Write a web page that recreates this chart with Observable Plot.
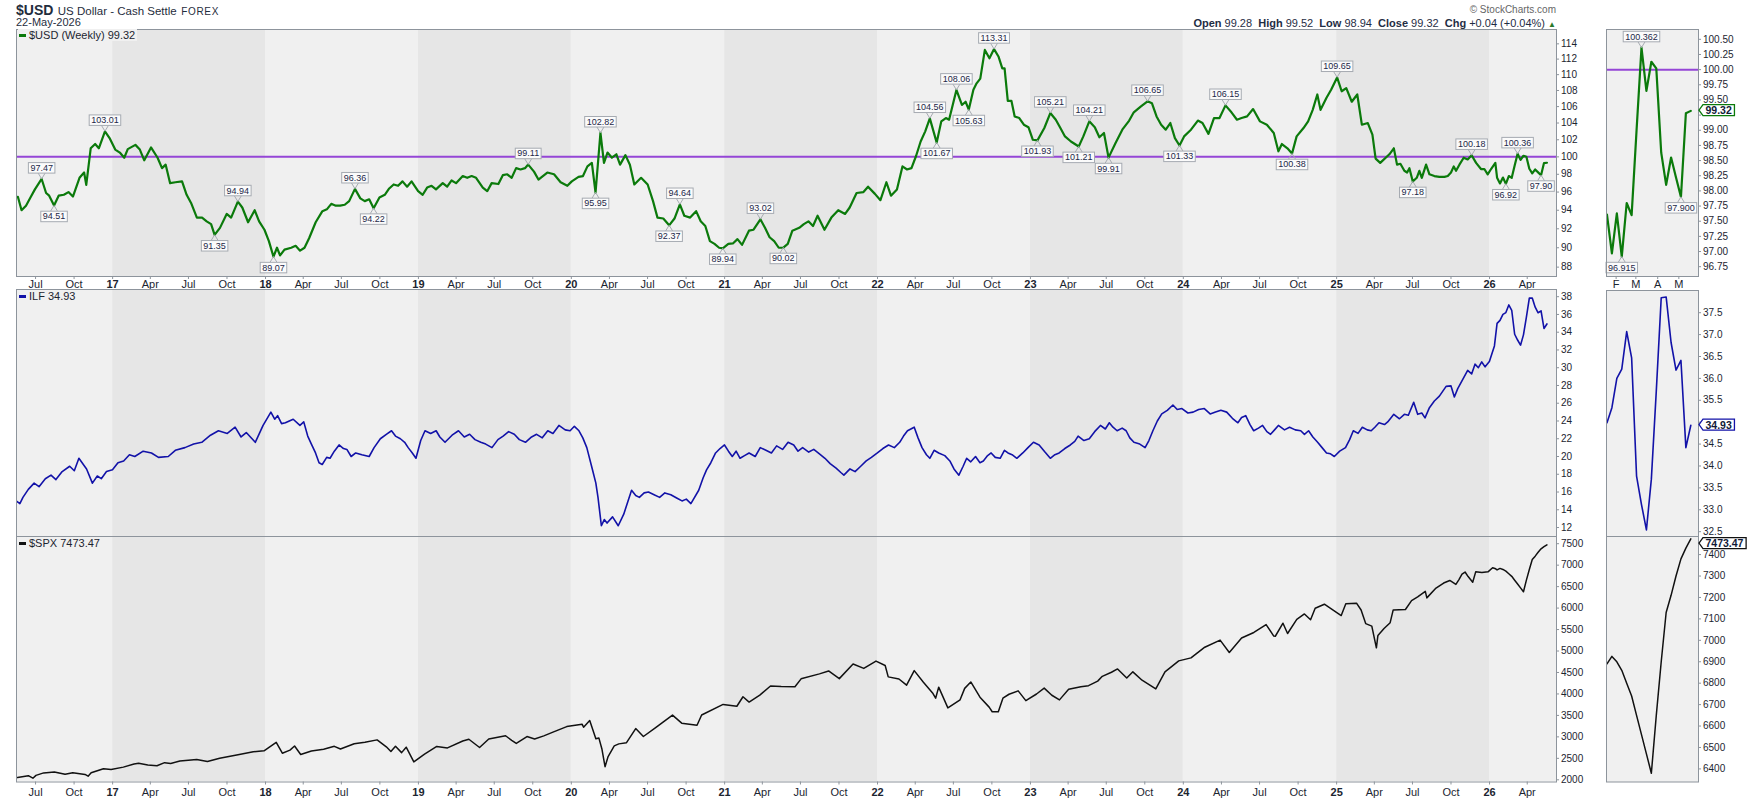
<!DOCTYPE html>
<html><head><meta charset="utf-8">
<script src="https://cdn.jsdelivr.net/npm/d3@7"></script>
<script src="https://cdn.jsdelivr.net/npm/@observablehq/plot@0.6"></script>
<style>
html,body{margin:0;padding:0;background:#fff;}
#chart{position:relative;width:1750px;height:800px;overflow:hidden;font-family:"Liberation Sans",Arial,sans-serif;color:#1c2a3c;}
#chart svg{overflow:visible;}
.h{position:absolute;white-space:nowrap;}
.leg{position:absolute;font-size:11px;line-height:12px;color:#1c2530;background:#f0f0f0;padding:0 2px 0 1px;white-space:nowrap;}
.leg i{display:inline-block;width:7px;height:3px;margin-right:3px;vertical-align:middle;position:relative;top:-1px;}
</style></head>
<body><div id="chart"></div>
<script>
// ---------- DATA ----------
// decimal-year time, value
const usdHist = [
[2016.382,95.48],[2016.406,94.0],[2016.435,94.5],[2016.464,95.4],[2016.493,96.3],[2016.537,97.47],[2016.566,95.9],[2016.586,95.6],[2016.618,94.51],[2016.648,95.6],[2016.682,95.7],[2016.712,96.0],[2016.741,95.5],[2016.784,97.6],[2016.814,98.2],[2016.828,96.8],[2016.857,101.0],[2016.886,101.5],[2016.910,101.0],[2016.950,103.01],[2016.980,102.2],
[2017.017,100.85],[2017.047,100.5],[2017.076,99.9],[2017.099,100.9],[2017.149,101.4],[2017.178,100.85],[2017.207,99.6],[2017.251,101.1],[2017.294,99.9],[2017.323,98.7],[2017.347,99.1],[2017.376,97.0],[2017.411,97.1],[2017.454,97.2],[2017.484,95.7],[2017.513,94.8],[2017.551,93.2],[2017.585,93.2],[2017.615,92.8],[2017.644,92.5],[2017.667,91.35],[2017.702,92.1],[2017.746,93.6],[2017.775,93.2],[2017.819,94.94],[2017.848,94.3],[2017.886,92.7],[2017.929,94.0],[2017.958,92.8],[2017.993,91.9],
[2018.022,90.7],[2018.052,89.07],[2018.075,90.0],[2018.095,89.2],[2018.124,89.8],[2018.168,90.0],[2018.197,90.2],[2018.226,89.7],[2018.255,90.0],[2018.285,91.0],[2018.328,92.7],[2018.372,93.9],[2018.401,94.1],[2018.430,94.7],[2018.459,94.5],[2018.488,94.5],[2018.518,94.6],[2018.547,95.0],[2018.585,96.36],[2018.620,95.3],[2018.649,95.0],[2018.678,95.2],[2018.707,94.22],[2018.745,95.4],[2018.780,95.7],[2018.809,96.4],[2018.838,96.85],[2018.867,96.7],[2018.896,97.2],[2018.926,96.6],[2018.955,97.2],[2018.998,96.1],
[2019.028,95.7],[2019.057,96.5],[2019.086,96.7],[2019.115,96.3],[2019.159,97.0],[2019.188,96.6],[2019.217,97.3],[2019.246,97.0],[2019.290,97.8],[2019.319,97.6],[2019.348,97.8],[2019.377,97.6],[2019.421,96.5],[2019.450,96.1],[2019.479,97.0],[2019.523,96.9],[2019.552,97.9],[2019.581,98.0],[2019.610,97.6],[2019.639,98.7],[2019.668,98.55],[2019.697,98.7],[2019.718,99.11],[2019.756,98.3],[2019.785,97.4],[2019.814,97.8],[2019.843,98.2],[2019.887,98.0],[2019.930,97.1],[2019.974,96.7],
[2020.003,97.2],[2020.047,97.7],[2020.076,97.8],[2020.105,98.9],[2020.134,99.3],[2020.158,95.95],[2020.190,102.82],[2020.213,99.3],[2020.236,100.5],[2020.265,99.9],[2020.294,100.3],[2020.318,99.1],[2020.353,100.2],[2020.382,99.1],[2020.411,96.85],[2020.455,97.6],[2020.498,96.85],[2020.533,95.0],[2020.562,93.2],[2020.600,93.1],[2020.638,92.37],[2020.673,93.1],[2020.708,94.64],[2020.737,93.4],[2020.775,93.2],[2020.814,93.9],[2020.844,92.8],[2020.874,92.3],[2020.904,90.7],[2020.934,90.4],[2020.964,90.0],[2020.988,89.94],
[2021.024,90.4],[2021.054,90.45],[2021.084,90.9],[2021.114,90.3],[2021.159,91.8],[2021.189,91.9],[2021.234,93.02],[2021.264,92.1],[2021.294,91.1],[2021.324,90.7],[2021.354,90.0],[2021.384,90.02],[2021.413,90.4],[2021.443,91.8],[2021.488,92.1],[2021.518,92.5],[2021.548,92.8],[2021.578,92.3],[2021.608,93.4],[2021.653,91.9],[2021.698,93.2],[2021.743,94.0],[2021.788,93.6],[2021.818,94.3],[2021.863,95.9],[2021.908,96.0],[2021.938,96.6],[2021.983,95.8],
[2022.019,95.1],[2022.058,97.1],[2022.088,95.6],[2022.127,96.3],[2022.163,98.9],[2022.193,98.55],[2022.222,98.7],[2022.252,100.1],[2022.282,101.8],[2022.312,103.0],[2022.342,104.56],[2022.387,101.67],[2022.417,104.2],[2022.447,104.6],[2022.468,104.4],[2022.516,108.06],[2022.552,106.2],[2022.576,106.6],[2022.597,105.63],[2022.627,108.1],[2022.648,108.9],[2022.672,109.5],[2022.702,113.2],[2022.732,112.1],[2022.762,113.31],[2022.792,112.3],[2022.816,110.8],[2022.831,110.8],[2022.852,106.7],[2022.876,106.7],[2022.897,104.8],[2022.927,104.6],[2022.957,103.8],[2022.987,103.5],
[2023.016,102.0],[2023.046,101.93],[2023.091,103.4],[2023.130,105.21],[2023.166,104.4],[2023.196,103.4],[2023.226,102.4],[2023.265,101.8],[2023.316,101.21],[2023.346,102.4],[2023.385,104.21],[2023.421,103.5],[2023.451,102.3],[2023.481,102.8],[2023.511,99.91],[2023.556,101.6],[2023.601,103.2],[2023.646,104.3],[2023.676,105.3],[2023.721,106.0],[2023.766,106.65],[2023.795,106.4],[2023.825,104.8],[2023.855,103.8],[2023.885,103.2],[2023.915,104.0],[2023.945,102.2],[2023.975,101.33],
[2024.005,102.4],[2024.050,103.2],[2024.095,104.3],[2024.125,104.0],[2024.164,102.7],[2024.200,104.6],[2024.236,104.6],[2024.275,106.15],[2024.314,105.3],[2024.350,104.4],[2024.380,104.6],[2024.416,104.8],[2024.455,105.7],[2024.500,104.2],[2024.545,103.8],[2024.590,102.8],[2024.620,100.65],[2024.643,101.5],[2024.679,101.0],[2024.709,100.38],[2024.739,102.4],[2024.784,103.4],[2024.814,104.2],[2024.844,105.6],[2024.874,107.5],[2024.895,105.6],[2024.934,107.1],[2024.964,108.1],
[2025.003,109.65],[2025.033,107.9],[2025.063,108.3],[2025.099,106.6],[2025.135,107.5],[2025.165,103.8],[2025.204,104.0],[2025.234,102.6],[2025.255,99.8],[2025.285,99.3],[2025.345,100.3],[2025.374,101.0],[2025.395,99.1],[2025.417,99.2],[2025.443,98.4],[2025.461,98.2],[2025.476,98.7],[2025.498,97.18],[2025.524,97.6],[2025.541,98.4],[2025.557,97.6],[2025.585,99.1],[2025.607,98.0],[2025.639,97.8],[2025.672,97.7],[2025.705,97.7],[2025.727,97.8],[2025.748,98.2],[2025.766,98.9],[2025.781,98.4],[2025.803,99.1],[2025.831,99.9],[2025.857,99.7],[2025.883,100.18],[2025.912,99.3],[2025.944,98.6],[2025.966,98.6],[2025.988,98.0],[2026.010,98.6],[2026.038,99.3]
];
const ilfHist = [
[2016.371,15.0],[2016.395,14.7],[2016.415,15.4],[2016.450,16.3],[2016.488,17.0],[2016.520,16.6],[2016.561,17.5],[2016.598,17.9],[2016.630,17.4],[2016.671,18.3],[2016.720,18.9],[2016.750,18.4],[2016.780,19.8],[2016.830,18.6],[2016.868,17.0],[2016.900,17.8],[2016.926,17.5],[2016.960,18.3],[2016.999,18.5],
[2017.035,19.3],[2017.072,19.5],[2017.110,20.2],[2017.145,20.0],[2017.200,20.6],[2017.254,20.4],[2017.300,19.9],[2017.364,20.0],[2017.410,20.7],[2017.473,21.0],[2017.530,21.4],[2017.583,21.6],[2017.640,22.4],[2017.692,22.9],[2017.750,22.6],[2017.801,23.3],[2017.840,22.2],[2017.874,22.7],[2017.933,21.6],[2017.960,22.6],[2017.984,23.5],
[2018.035,25.0],[2018.060,24.2],[2018.079,24.6],[2018.105,23.7],[2018.130,23.8],[2018.181,24.2],[2018.225,23.5],[2018.250,23.9],[2018.276,22.3],[2018.300,21.4],[2018.327,20.4],[2018.350,19.3],[2018.371,19.1],[2018.400,19.9],[2018.422,19.8],[2018.450,20.6],[2018.481,21.3],[2018.510,20.9],[2018.532,20.8],[2018.560,20.0],[2018.590,20.4],[2018.630,20.2],[2018.678,20.0],[2018.710,21.0],[2018.751,22.0],[2018.790,22.5],[2018.824,22.9],[2018.850,22.3],[2018.882,22.0],[2018.910,21.6],[2018.933,21.0],[2018.960,20.4],[2018.984,19.8],
[2019.015,21.8],[2019.043,22.9],[2019.080,22.6],[2019.116,22.9],[2019.140,22.2],[2019.174,21.6],[2019.220,22.4],[2019.262,22.9],[2019.300,22.2],[2019.335,22.5],[2019.370,21.9],[2019.408,21.6],[2019.440,21.4],[2019.481,21.0],[2019.520,21.9],[2019.554,22.3],[2019.590,22.8],[2019.627,22.5],[2019.660,21.9],[2019.700,21.6],[2019.740,22.2],[2019.773,22.5],[2019.810,22.1],[2019.846,22.9],[2019.880,22.6],[2019.919,23.5],[2019.960,23.0],[2019.992,22.9],
[2020.020,23.4],[2020.050,22.9],[2020.075,22.1],[2020.101,21.0],[2020.138,18.5],[2020.160,17.0],[2020.174,15.4],[2020.196,12.2],[2020.215,12.9],[2020.233,12.5],[2020.269,13.2],[2020.306,12.2],[2020.342,13.5],[2020.370,15.0],[2020.393,16.2],[2020.420,15.6],[2020.444,15.4],[2020.475,15.9],[2020.503,16.0],[2020.540,15.7],[2020.576,15.4],[2020.610,15.9],[2020.649,15.7],[2020.690,15.3],[2020.722,15.0],[2020.750,15.2],[2020.780,14.7],[2020.831,16.2],[2020.860,17.6],[2020.882,18.5],[2020.910,19.3],[2020.941,20.4],[2020.970,20.9],[2020.999,21.3],
[2021.025,20.6],[2021.050,20.0],[2021.075,20.6],[2021.101,19.8],[2021.130,20.1],[2021.160,20.4],[2021.200,20.0],[2021.233,21.0],[2021.270,20.7],[2021.306,20.4],[2021.340,21.2],[2021.379,20.8],[2021.415,21.6],[2021.452,21.3],[2021.480,20.6],[2021.510,21.0],[2021.550,20.5],[2021.583,20.8],[2021.620,20.3],[2021.656,19.8],[2021.690,19.2],[2021.729,18.7],[2021.760,18.2],[2021.780,17.9],[2021.820,18.6],[2021.853,18.3],[2021.890,18.9],[2021.926,19.5],[2021.960,19.9],[2021.999,20.4],
[2022.035,20.9],[2022.072,21.3],[2022.110,21.0],[2022.145,21.6],[2022.170,22.3],[2022.196,22.9],[2022.240,23.3],[2022.265,22.1],[2022.291,21.0],[2022.320,20.2],[2022.342,19.8],[2022.370,20.7],[2022.400,20.4],[2022.440,20.1],[2022.473,19.5],[2022.500,18.6],[2022.532,17.9],[2022.560,18.9],[2022.583,19.8],[2022.610,19.4],[2022.641,20.0],[2022.670,19.3],[2022.692,19.5],[2022.720,20.1],[2022.743,20.4],[2022.770,19.9],[2022.802,19.8],[2022.830,20.7],[2022.853,20.4],[2022.880,20.2],[2022.911,19.8],[2022.950,20.4],[2022.984,21.0],
[2023.020,21.6],[2023.057,21.3],[2023.095,20.5],[2023.130,19.8],[2023.160,20.2],[2023.188,20.4],[2023.225,20.9],[2023.261,21.3],[2023.290,21.7],[2023.312,22.3],[2023.350,21.8],[2023.385,22.0],[2023.420,22.8],[2023.458,23.5],[2023.490,23.1],[2023.516,23.8],[2023.540,23.3],[2023.567,22.9],[2023.600,23.2],[2023.626,22.9],[2023.650,22.1],[2023.677,21.6],[2023.715,21.4],[2023.750,21.0],[2023.775,21.8],[2023.801,22.9],[2023.830,24.0],[2023.859,24.8],[2023.895,25.2],[2023.932,25.8],[2023.960,25.3],[2023.991,25.4],
[2024.030,24.9],[2024.064,25.0],[2024.100,25.3],[2024.137,25.4],[2024.175,24.8],[2024.210,25.0],[2024.245,25.2],[2024.283,25.0],[2024.320,24.3],[2024.356,23.8],[2024.380,24.4],[2024.407,24.6],[2024.435,23.6],[2024.459,22.9],[2024.490,23.2],[2024.517,23.5],[2024.545,22.8],[2024.569,22.5],[2024.595,23.0],[2024.620,23.5],[2024.660,23.0],[2024.693,23.3],[2024.730,23.0],[2024.766,22.9],[2024.790,22.5],[2024.817,22.9],[2024.845,22.2],[2024.876,21.6],[2024.905,21.0],[2024.934,20.4],[2024.960,20.3],[2024.985,20.0],
[2025.020,20.6],[2025.058,21.0],[2025.085,21.9],[2025.109,22.9],[2025.140,22.6],[2025.168,23.3],[2025.200,23.0],[2025.226,22.9],[2025.250,23.3],[2025.277,23.8],[2025.313,23.6],[2025.334,23.9],[2025.374,24.75],[2025.411,24.25],[2025.443,24.75],[2025.469,24.65],[2025.504,26.1],[2025.530,24.75],[2025.557,24.9],[2025.578,24.35],[2025.607,25.5],[2025.639,26.25],[2025.672,26.8],[2025.716,27.9],[2025.748,27.95],[2025.770,26.7],[2025.792,27.65],[2025.825,28.7],[2025.857,29.7],[2025.883,29.3],[2025.905,30.4],[2025.927,30.0],[2025.949,30.65],[2025.971,30.1],[2025.999,30.7],[2026.032,32.45]
];
const spxHist = [
[2016.38,2052],[2016.45,2096],[2016.48,2037],[2016.50,2103],[2016.55,2161],[2016.62,2184],[2016.69,2128],[2016.74,2165],[2016.82,2126],[2016.84,2085],[2016.86,2164],[2016.94,2259],[2016.99,2239],
[2017.07,2295],[2017.14,2367],[2017.17,2383],[2017.23,2344],[2017.29,2329],[2017.34,2399],[2017.38,2382],[2017.44,2439],[2017.55,2473],[2017.62,2426],[2017.70,2500],[2017.82,2581],[2017.92,2652],[2017.99,2674],
[2018.07,2873],[2018.11,2620],[2018.16,2691],[2018.19,2786],[2018.23,2588],[2018.30,2670],[2018.38,2713],[2018.45,2780],[2018.49,2718],[2018.58,2840],[2018.65,2875],[2018.73,2930],[2018.79,2768],[2018.82,2658],[2018.85,2781],[2018.89,2633],[2018.92,2760],[2018.97,2417],
[2019.04,2596],[2019.12,2776],[2019.19,2743],[2019.29,2905],[2019.33,2945],[2019.40,2752],[2019.46,2950],[2019.57,3026],[2019.61,2919],[2019.64,2847],[2019.71,3007],[2019.76,2952],[2019.82,3023],[2019.88,3110],[2019.97,3240],
[2020.07,3295],[2020.08,3225],[2020.12,3380],[2020.16,2954],[2020.18,2972],[2020.20,2711],[2020.22,2305],[2020.24,2541],[2020.28,2790],[2020.31,2837],[2020.36,2864],[2020.42,3194],[2020.47,3009],[2020.55,3216],[2020.66,3508],[2020.72,3319],[2020.82,3270],[2020.85,3509],[2020.99,3756],
[2021.08,3714],[2021.12,3934],[2021.16,3811],[2021.23,3974],[2021.30,4185],[2021.37,4173],[2021.46,4166],[2021.50,4352],[2021.62,4468],[2021.68,4535],[2021.75,4357],[2021.84,4697],[2021.91,4595],[2021.99,4766],
[2022.05,4663],[2022.07,4398],[2022.14,4349],[2022.19,4204],[2022.24,4543],[2022.30,4272],[2022.36,4023],[2022.38,3901],[2022.40,4158],[2022.46,3675],[2022.54,3863],[2022.57,4130],[2022.61,4280],[2022.67,3924],[2022.73,3693],[2022.75,3586],[2022.79,3583],[2022.82,3901],[2022.86,3993],[2022.92,4072],[2022.97,3845],
[2023.04,3999],[2023.09,4136],[2023.14,3970],[2023.19,3862],[2023.25,4109],[2023.33,4169],[2023.38,4192],[2023.44,4299],[2023.47,4410],[2023.53,4505],[2023.57,4582],[2023.63,4370],[2023.67,4515],[2023.73,4320],[2023.82,4117],[2023.88,4514],[2023.97,4770],
[2024.05,4840],[2024.14,5089],[2024.24,5254],[2024.30,4967],[2024.38,5304],[2024.46,5432],[2024.54,5615],[2024.59,5347],[2024.60,5344],[2024.65,5648],[2024.68,5408],[2024.74,5738],[2024.79,5864],[2024.83,5729],[2024.86,5995],[2024.92,6090],[2024.97,5970],
[2025.03,5827],[2025.06,6101],[2025.13,6114],[2025.16,5955],[2025.19,5639],[2025.23,5581],[2025.26,5074],[2025.27,5363],[2025.31,5525],[2025.35,5660],[2025.37,5958],[2025.45,5967],[2025.49,6173],[2025.53,6259],[2025.58,6389],[2025.59,6238],[2025.65,6466],[2025.70,6584],[2025.74,6643],[2025.78,6552],[2025.80,6664],[2025.82,6791],[2025.84,6840],[2025.86,6734],[2025.89,6603],[2025.91,6849],[2025.95,6827],[2025.99,6845],
[2026.02,6940],[2026.04,6915]
];
// last 18 weekly bars (shown in the right-hand zoom panels and at the end of the main panels)
const recentDates = ["2026-01-19","2026-01-26","2026-02-02","2026-02-09","2026-02-16","2026-02-23","2026-03-02","2026-03-09","2026-03-16","2026-03-23","2026-03-30","2026-04-06","2026-04-13","2026-04-20","2026-04-27","2026-05-04","2026-05-11","2026-05-18"];
const usdRecent = [97.61,96.97,97.63,96.915,97.80,97.60,99.0,100.362,99.65,100.13,100.02,98.63,98.10,98.55,98.22,97.90,99.28,99.32];
const ilfRecent = [34.99,35.33,36.0,36.21,37.07,36.47,33.77,33.12,32.54,33.7,35.71,37.84,37.86,36.82,36.19,36.41,34.42,34.93];
const spxRecent = [6890,6925,6900,6860,6800,6740,6650,6560,6470,6380,6650,6900,7130,7210,7300,7380,7430,7473.47];
// annotated swing points
const usdPeaks = [[2016.537,97.47],[2016.950,103.01],[2017.819,94.94],[2018.585,96.36],[2019.718,99.11],[2020.190,102.82],[2020.708,94.64],[2021.234,93.02],[2022.342,104.56],[2022.516,108.06],[2022.762,113.31],[2023.130,105.21],[2023.385,104.21],[2023.766,106.65],[2024.275,106.15],[2025.003,109.65],[2025.883,100.18],["2026-03-09",100.36]];
const usdTroughs = [[2016.618,94.51],[2017.667,91.35],[2018.052,89.07],[2018.707,94.22],[2020.158,95.95],[2020.638,92.37],[2020.988,89.94],[2021.384,90.02],[2022.387,101.67],[2022.597,105.63],[2023.046,101.93],[2023.316,101.21],[2023.511,99.91],[2023.975,101.33],[2024.709,100.38],[2025.498,97.18],["2026-02-09",96.92],["2026-05-04",97.90]];
const miniPeaks = [["2026-03-09",100.362]];
const miniTroughs = [["2026-02-09",96.915],["2026-05-04",97.900]];
// axis ticks
const usdTicks = [88,90,92,94,96,98,100,102,104,106,108,110,112,114];
const ilfTicks = [12,14,16,18,20,22,24,26,28,30,32,34,36,38];
const spxTicks = [2000,2500,3000,3500,4000,4500,5000,5500,6000,6500,7000,7500];
const miniUsdTicks = [96.75,97.00,97.25,97.50,97.75,98.00,98.25,98.50,98.75,99.00,99.25,99.50,99.75,100.00,100.25,100.50];
const miniIlfTicks = [32.5,33.0,33.5,34.0,34.5,35.0,35.5,36.0,36.5,37.0,37.5];
const miniSpxTicks = [6400,6500,6600,6700,6800,6900,7000,7100,7200,7300,7400];
const resistance = 100;
const lastValues = {usd: 99.32, ilf: 34.93, spx: 7473.47};

// ---------- helpers ----------
function toDate(t) {
  if (typeof t === "string") return new Date(t + "T00:00:00Z");
  const y = Math.floor(t), a = Date.UTC(y, 0, 1), b = Date.UTC(y + 1, 0, 1);
  return new Date(a + (t - y) * (b - a));
}
const rows = (hist, dates, recent) =>
  hist.map(([t, v]) => ({date: toDate(t), value: v}))
    .concat(dates.map((d, i) => ({date: toDate(d), value: recent[i]})));
const pts = arr => arr.map(([t, v]) => ({date: toDate(t), value: v}));

const usdData = rows(usdHist, recentDates, usdRecent);
const ilfData = rows(ilfHist, recentDates, ilfRecent);
const spxData = rows(spxHist, recentDates, spxRecent);
const usdMini = pts(recentDates.map((d, i) => [d, usdRecent[i]]));
const ilfMini = pts(recentDates.map((d, i) => [d, ilfRecent[i]]));
const spxMini = pts(recentDates.map((d, i) => [d, spxRecent[i]]));

const GREEN = "#0b7a0b", PURPLE = "#9546d6", BLUE = "#1212a8", BLACK = "#111", BORDER = "#8d949c", TXT = "#1c2530", LBL = "#1b2848";
const FONT = "'Liberation Sans', Arial, sans-serif";
const style = {background: "transparent", color: TXT, fontFamily: FONT, fontSize: "10px", overflow: "visible"};

const xDomain = [toDate(2016.373), toDate(2026.438)];
const bands = d3.range(2016, 2027).map(y => ({x1: new Date(Date.UTC(y, 0, 1)), x2: new Date(Date.UTC(y + 1, 0, 1)), dark: y % 2 === 1}));
const lightBands = bands.filter(d => !d.dark), darkBands = bands.filter(d => d.dark);
const monthTicks = d3.utcMonth.every(3).range(new Date(Date.UTC(2016, 3, 1)), xDomain[1]).filter(d => d >= xDomain[0] && d.getUTCMonth() !== 0);
const yearTicks = d3.utcYear.range(new Date(Date.UTC(2017, 0, 1)), xDomain[1]);
const fmtMonth = d3.utcFormat("%b"), fmtYear = d3.utcFormat("%y");
const miniDomain = [new Date("2026-01-18T08:00:00Z"), new Date("2026-05-28T22:00:00Z")];
const miniMonthTicks = d3.utcMonth.range(miniDomain[0], miniDomain[1]);

const MW = 1540, MRW = 92;

function bgBands(yd) {
  return [
    Plot.rect(lightBands, {x1: "x1", x2: "x2", y1: yd[0], y2: yd[1], fill: "#f0f0f0", clip: true}),
    Plot.rect(darkBands, {x1: "x1", x2: "x2", y1: yd[0], y2: yd[1], fill: "#e6e6e6", clip: true})
  ];
}
function xAxes(pad) {
  return [
    Plot.axisX({anchor: "bottom", label: null, ticks: monthTicks, tickFormat: fmtMonth, tickSize: 3, tickPadding: pad, fontSize: 11, stroke: BORDER, fill: TXT}),
    Plot.axisX({anchor: "bottom", label: null, ticks: yearTicks, tickFormat: fmtYear, tickSize: 3, tickPadding: pad, fontSize: 11, fontWeight: "bold", stroke: BORDER, fill: TXT})
  ];
}
// right-hand price axis drawn as tick rules plus text (works for log and linear scales)
function yAxis(ticks, fmt, xEnd, tickSpan) {
  return [
    Plot.ruleY(ticks, {y: d => d, x1: xEnd, x2: new Date(+xEnd + tickSpan), stroke: BORDER}),
    Plot.text(ticks, {y: d => d, frameAnchor: "right", dx: 4.5, textAnchor: "start", lineAnchor: "middle", text: fmt, fontSize: 10, fill: TXT})
  ];
}
function labelMarks(peaks, troughs, digits, name) {
  return [
    Plot.text(pts(peaks), {x: "date", y: "value", text: d => d.value.toFixed(digits), dy: -11, lineAnchor: "middle", fontSize: 9, fill: LBL, ariaDescription: name + "-up"}),
    Plot.text(pts(troughs), {x: "date", y: "value", text: d => d.value.toFixed(digits), dy: 11, lineAnchor: "middle", fontSize: 9, fill: LBL, ariaDescription: name + "-down"})
  ];
}
// last-value tag on the zoom panel's price axis; kept inside the panel's top edge
function tagMark(v, name, yMax) {
  return Plot.text([v], {y: d => Math.min(d, yMax), frameAnchor: "right", dx: 7, textAnchor: "start", lineAnchor: "middle", text: d => d.toFixed(2), fontWeight: "bold", fontSize: 10.5, fill: "#101a38", ariaDescription: name});
}

const chart = document.getElementById("chart");
function mount(svg, left, top) {
  svg.style.position = "absolute"; svg.style.left = left + "px"; svg.style.top = top + "px";
  chart.appendChild(svg); return svg;
}
const DAY = 864e5;
const mainTick = 7.3 * DAY;   // ~3px on the main time axis
const miniTick = 4.3 * DAY;   // ~3px on the zoom time axis

// ---------- main panels ----------
const usdDom = [87.05, 115.91];
const topMain = mount(Plot.plot({
  width: 1 + MW + 45, height: 1 + 247 + 13, marginLeft: 1, marginTop: 1, marginRight: 45, marginBottom: 13, style,
  x: {type: "utc", domain: xDomain, axis: null},
  y: {type: "log", domain: usdDom, axis: null},
  marks: [
    ...bgBands(usdDom),
    Plot.ruleY([resistance], {stroke: PURPLE, strokeWidth: 2, clip: true}),
    Plot.line(usdData, {x: "date", y: "value", stroke: GREEN, strokeWidth: 2.2, clip: true}),
    ...labelMarks(usdPeaks, usdTroughs, 2, "usd"),
    Plot.frame({stroke: BORDER}),
    ...yAxis(usdTicks, d => String(d), xDomain[1], mainTick),
    ...xAxes(1)
  ]
}), 15, 27.5);

const ilfDom = [10.99, 38.81];
const midMain = mount(Plot.plot({
  width: 1 + MW + 45, height: 1 + 247, marginLeft: 1, marginTop: 1, marginRight: 45, marginBottom: 0, style,
  x: {type: "utc", domain: xDomain, axis: null},
  y: {domain: ilfDom, axis: null},
  marks: [
    ...bgBands(ilfDom),
    Plot.line(ilfData, {x: "date", y: "value", stroke: BLUE, strokeWidth: 1.6, clip: true}),
    Plot.frame({stroke: BORDER}),
    ...yAxis(ilfTicks, d => String(d), xDomain[1], mainTick)
  ]
}), 15, 287.5);

const spxDom = [1948.8, 7667.7];
const botMain = mount(Plot.plot({
  width: 1 + MW + 45, height: 1 + 245.5 + 19, marginLeft: 1, marginTop: 1, marginRight: 45, marginBottom: 19, style,
  x: {type: "utc", domain: xDomain, axis: null},
  y: {domain: spxDom, axis: null},
  marks: [
    ...bgBands(spxDom),
    Plot.line(spxData, {x: "date", y: "value", stroke: BLACK, strokeWidth: 1.5, clip: true}),
    Plot.frame({stroke: BORDER}),
    ...yAxis(spxTicks, d => String(d), xDomain[1], mainTick),
    ...xAxes(3)
  ]
}), 15, 534.5);

// ---------- zoom panels (last weeks) ----------
const mUsdDom = [96.588, 100.662];
const topMini = mount(Plot.plot({
  width: 1 + MRW + 52, height: 1 + 247 + 13, marginLeft: 1, marginTop: 1, marginRight: 52, marginBottom: 13, style,
  x: {type: "utc", domain: miniDomain, axis: null},
  y: {domain: mUsdDom, axis: null},
  marks: [
    Plot.frame({fill: "#f0f0f0"}),
    Plot.ruleY([resistance], {stroke: PURPLE, strokeWidth: 2, clip: true}),
    Plot.line(usdMini, {x: "date", y: "value", stroke: GREEN, strokeWidth: 2.2, clip: true}),
    ...labelMarks(miniPeaks, miniTroughs, 3, "musd"),
    Plot.frame({stroke: BORDER}),
    ...yAxis(miniUsdTicks, d => d === 99.25 ? "" : d.toFixed(2), miniDomain[1], miniTick),
    Plot.axisX({anchor: "bottom", label: null, ticks: miniMonthTicks, tickFormat: d => "JFMAMJJASOND"[d.getUTCMonth()], tickSize: 3, tickPadding: 1, fontSize: 11, stroke: BORDER, fill: TXT}),
    tagMark(lastValues.usd, "tag-usd", 100.55)
  ]
}), 1604.5, 27.5);

const mIlfDom = [32.39, 38.007];
const midMini = mount(Plot.plot({
  width: 1 + MRW + 52, height: 1 + 246, marginLeft: 1, marginTop: 1, marginRight: 52, marginBottom: 0, style,
  x: {type: "utc", domain: miniDomain, axis: null},
  y: {domain: mIlfDom, axis: null},
  marks: [
    Plot.frame({fill: "#f0f0f0"}),
    Plot.line(ilfMini, {x: "date", y: "value", stroke: BLUE, strokeWidth: 1.6, clip: true}),
    Plot.frame({stroke: BORDER}),
    ...yAxis(miniIlfTicks, d => d === 35 ? "" : d.toFixed(1), miniDomain[1], miniTick),
    tagMark(lastValues.ilf, "tag-ilf", 37.85)
  ]
}), 1604.5, 288.5);

const mSpxDom = [6338.9, 7484.5];
const botMini = mount(Plot.plot({
  width: 1 + MRW + 52, height: 1 + 245.5, marginLeft: 1, marginTop: 1, marginRight: 52, marginBottom: 0, style,
  x: {type: "utc", domain: miniDomain, axis: null},
  y: {domain: mSpxDom, axis: null},
  marks: [
    Plot.frame({fill: "#f0f0f0"}),
    Plot.line(spxMini, {x: "date", y: "value", stroke: BLACK, strokeWidth: 1.5, clip: true}),
    Plot.frame({stroke: BORDER}),
    ...yAxis(miniSpxTicks, d => String(d), miniDomain[1], miniTick),
    tagMark(lastValues.spx, "tag-spx", 7451)
  ]
}), 1604.5, 534.5);

// ---------- decorations: boxed swing labels and price tags ----------
const NS = "http://www.w3.org/2000/svg";
function el(name, attrs) { const e = document.createElementNS(NS, name); for (const k in attrs) e.setAttribute(k, attrs[k]); return e; }
function findGroup(svg, name) {
  return svg.querySelector(`g[aria-description="${name}"]`) || svg.querySelector(`g[aria-label="${name}"]`);
}
function boxLabels(svg, name, above) {
  const g = findGroup(svg, name); if (!g) return;
  const sr = svg.getBoundingClientRect();
  const deco = el("g", {"aria-hidden": "true"});
  g.parentNode.insertBefore(deco, g);
  g.querySelectorAll("text").forEach(t => {
    const r = t.getBoundingClientRect();
    const cx = r.left + r.width / 2 - sr.left, cy = r.top + r.height / 2 - sr.top;
    const w = r.width + 4, h = 10.5, s = above ? 1 : -1;
    deco.append(
      el("path", {d: `M${cx - 3.5},${cy + s * h / 2}L${cx},${cy + s * 11}L${cx + 3.5},${cy + s * h / 2}`, fill: "none", stroke: "#a6abb2"}),
      el("rect", {x: cx - w / 2, y: cy - h / 2, width: w, height: h, fill: "#fbfbfb", stroke: "#a6abb2"})
    );
  });
}
function priceTag(svg, name, color) {
  const g = findGroup(svg, name); if (!g) return;
  const t = g.querySelector("text"); if (!t) return;
  const sr = svg.getBoundingClientRect(), r = t.getBoundingClientRect();
  const x0 = r.left - sr.left - 2.5, x1 = r.right - sr.left + 2.5, cy = r.top + r.height / 2 - sr.top, h = 11;
  g.parentNode.insertBefore(el("path", {d: `M${x0 - 4},${cy}L${x0},${cy - h / 2}L${x1},${cy - h / 2}L${x1},${cy + h / 2}L${x0},${cy + h / 2}Z`, fill: "#fff", stroke: color, "stroke-width": 1.3}), g);
}
boxLabels(topMain, "usd-up", true); boxLabels(topMain, "usd-down", false);
boxLabels(topMini, "musd-up", true); boxLabels(topMini, "musd-down", false);
priceTag(topMini, "tag-usd", GREEN); priceTag(midMini, "tag-ilf", BLUE); priceTag(botMini, "tag-spx", BLACK);

// ---------- header and legends ----------
function html(s) { const d = document.createElement("div"); d.innerHTML = s; const n = d.firstElementChild; chart.appendChild(n); return n; }
html(`<div class="h" style="left:16px;top:1px;color:#1f2d3d"><b style="font-size:14px">$USD</b> <span style="font-size:11.5px">US Dollar - Cash Settle</span> <span style="font-size:10px;letter-spacing:.7px">FOREX</span></div>`);
html(`<div class="h" style="left:16px;top:16px;font-size:11px;color:#1f2d3d">22-May-2026</div>`);
html(`<div class="h" style="right:194px;top:4px;font-size:10px;color:#666">© StockCharts.com</div>`);
html(`<div class="h" style="right:194px;top:17px;font-size:11px;color:#1f2d44"><b>Open</b> 99.28 &nbsp;<b>High</b> 99.52 &nbsp;<b>Low</b> 98.94 &nbsp;<b>Close</b> 99.32 &nbsp;<b>Chg</b> +0.04 (+0.04%) <span style="color:#2a7a2a;font-size:8px">▲</span></div>`);
html(`<div class="leg" style="left:18px;top:29px"><i style="background:${GREEN}"></i>$USD (Weekly) 99.32</div>`);
html(`<div class="leg" style="left:18px;top:290px"><i style="background:${BLUE}"></i>ILF 34.93</div>`);
html(`<div class="leg" style="left:18px;top:537px"><i style="background:${BLACK}"></i>$SPX 7473.47</div>`);
</script>
</body></html>
